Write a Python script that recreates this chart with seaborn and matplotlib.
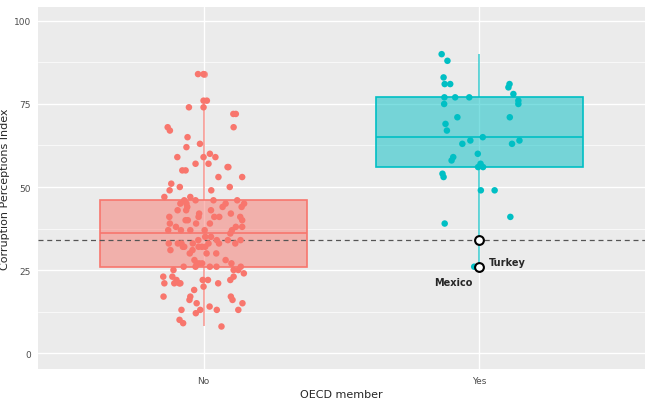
import numpy as np
import pandas as pd
import matplotlib
matplotlib.use('Agg')
import matplotlib.pyplot as plt
import seaborn as sns
from matplotlib.colors import to_rgba

sns.set_style("darkgrid", {'axes.facecolor': '#EBEBEB', 'grid.color': 'white'})
plt.rcParams['font.family'] = ['DejaVu Sans']

# CPI values and horizontal jitter (category units)
no_cpi = [84, 84, 76, 76, 74, 74, 72, 72, 68, 68, 67, 65, 63, 62, 60, 59, 59, 59, 57, 57, 56, 56,
          55, 55, 53, 53, 51, 50, 50, 49, 49, 47, 47, 46, 46, 46, 46, 45, 45, 45, 45, 44, 44, 44,
          43, 43, 43, 42, 42, 41, 41, 41, 41, 41, 40, 40, 40, 39, 39, 39, 38, 38, 38,
          37, 37, 37, 37, 37, 36, 35, 35, 34, 34, 34, 34, 33, 33, 33, 33, 33, 33, 33,
          32, 32, 32, 32, 32, 31, 31, 30, 30, 30, 28, 28, 27, 27, 27, 27, 26, 26, 26, 26, 26,
          25, 25, 25, 24, 23, 23, 23, 22, 22, 22, 22, 21, 21, 21, 21, 21, 20, 19,
          17, 17, 17, 16, 16, 15, 15, 14, 13, 13, 13, 13, 12, 10, 9, 8]
no_jit = [-0.02, 0.0, 0.0, 0.012, -0.053, 0.0, 0.108, 0.117, -0.13, 0.109, -0.122, -0.058, -0.013,
          -0.062, 0.023, -0.095, 0.0, 0.043, -0.029, 0.018, 0.087, 0.09, -0.077, -0.065, 0.054, 0.14,
          -0.117, -0.086, 0.095, -0.123, 0.028, -0.142, -0.048, -0.07, -0.029, 0.036, 0.122,
          -0.084, -0.062, 0.08, 0.147, -0.059, 0.069, 0.138, -0.094, -0.063, 0.027, -0.016, 0.099,
          -0.124, -0.018, 0.039, 0.057, 0.133, -0.065, -0.057, 0.14, -0.122, -0.027, 0.023,
          -0.1, 0.117, 0.14, -0.128, -0.082, -0.048, 0.004, 0.103, 0.097, 0.006, 0.027,
          -0.019, 0.048, 0.088, 0.134, -0.126, -0.093, -0.08, -0.039, 0.018, 0.056, 0.115,
          -0.075, -0.07, -0.018, -0.006, 0.006, -0.12, -0.04, -0.05, 0.011, 0.046, -0.033, 0.08,
          -0.025, -0.016, -0.005, 0.101, -0.072, -0.029, 0.023, 0.047, 0.135,
          -0.109, 0.109, 0.126, 0.146, -0.146, -0.113, 0.109, -0.098, -0.003, 0.016, 0.097,
          -0.142, -0.106, -0.088, -0.084, 0.053, 0.0, -0.034,
          -0.145, -0.048, 0.099, -0.051, 0.105, -0.025, 0.141, 0.022, -0.08, -0.012, 0.048, 0.126,
          -0.028, -0.087, -0.074, 0.065]
yes_cpi = [90, 88, 83, 81, 81, 77, 77, 77, 75, 71, 69, 67, 64, 63, 65, 60, 59, 58, 57, 56, 56,
           54, 53, 49, 49, 39, 41, 81, 80, 78, 76, 75, 71, 64, 63, 26, 34]
yes_jit = [-0.137, -0.116, -0.13, -0.126, -0.106, -0.127, -0.088, -0.037, -0.128, -0.08, -0.123,
           -0.118, -0.033, -0.062, 0.012, -0.006, -0.095, -0.101, 0.004, -0.005, 0.013, -0.134,
           -0.13, 0.005, 0.055, -0.126, 0.112, 0.109, 0.105, 0.123, 0.141, 0.141, 0.11, 0.145,
           0.118, -0.019, 0.0]

groups = ['No', 'Yes']
colors = ['#F8766D', '#00BFC4']
highlight_names = ['Turkey', 'Mexico']
highlight_cpi = [34, 26]
turkey_cpi = 34

df = pd.DataFrame({
    'oecd': ['No'] * len(no_cpi) + ['Yes'] * len(yes_cpi),
    'cpi': no_cpi + yes_cpi,
    'jit': no_jit + yes_jit,
})
df['xpos'] = df['oecd'].map({g: i for i, g in enumerate(groups)}) + df['jit']

fig = plt.figure(figsize=(6.5, 4.02), dpi=100)
ax = fig.add_axes([38 / 650, 32 / 402, 607 / 650, 362 / 402])

for g, c in zip(groups, colors):
    sub = df[df['oecd'] == g]
    sns.boxplot(data=sub, x='oecd', y='cpi', order=groups, color=c, width=0.75, ax=ax,
                linecolor=c, linewidth=1.2, showcaps=False,
                boxprops={'facecolor': to_rgba(c, 0.5)},
                whiskerprops={'alpha': 0.7},
                flierprops={'marker': 'o', 'markersize': 5, 'markerfacecolor': c,
                            'markeredgecolor': 'none', 'alpha': 0.5},
                zorder=2)

ax.axhline(turkey_cpi, color='#555555', linestyle=(0, (4, 3)), linewidth=0.9, zorder=3)

for g, c in zip(groups, colors):
    sub = df[df['oecd'] == g]
    sns.scatterplot(data=sub, x='xpos', y='cpi', color=c, s=22, edgecolor='none', ax=ax,
                    zorder=4, legend=False)

ax.scatter([1, 1], highlight_cpi, s=40, facecolor='white', edgecolor='black', linewidth=1.5, zorder=5)
ax.annotate('Turkey', (1, highlight_cpi[0]), xytext=(7, -18), textcoords='offset points',
            fontsize=7, fontweight='bold', ha='left')
ax.annotate('Mexico', (1, highlight_cpi[1]), xytext=(-5, -13), textcoords='offset points',
            fontsize=7, fontweight='bold', ha='right')

ax.set_xlim(-0.6, 1.6)
ax.set_ylim(-4.8, 104.2)
ax.set_yticks([0, 25, 50, 75, 100])
ax.set_yticks([12.5, 37.5, 62.5, 87.5], minor=True)
ax.grid(True, which='major', color='white', linewidth=1.0)
ax.grid(True, which='minor', axis='y', color='white', linewidth=0.5)
ax.set_axisbelow(True)
for s in ax.spines.values():
    s.set_visible(False)
ax.tick_params(axis='both', labelsize=6.5, colors='#4D4D4D', length=3, color='#333333', pad=2)
ax.set_xlabel('OECD member', fontsize=8, labelpad=3)
ax.set_ylabel('Corruption Perceptions Index', fontsize=8, labelpad=3)

fig.savefig('out.png', dpi=100)
